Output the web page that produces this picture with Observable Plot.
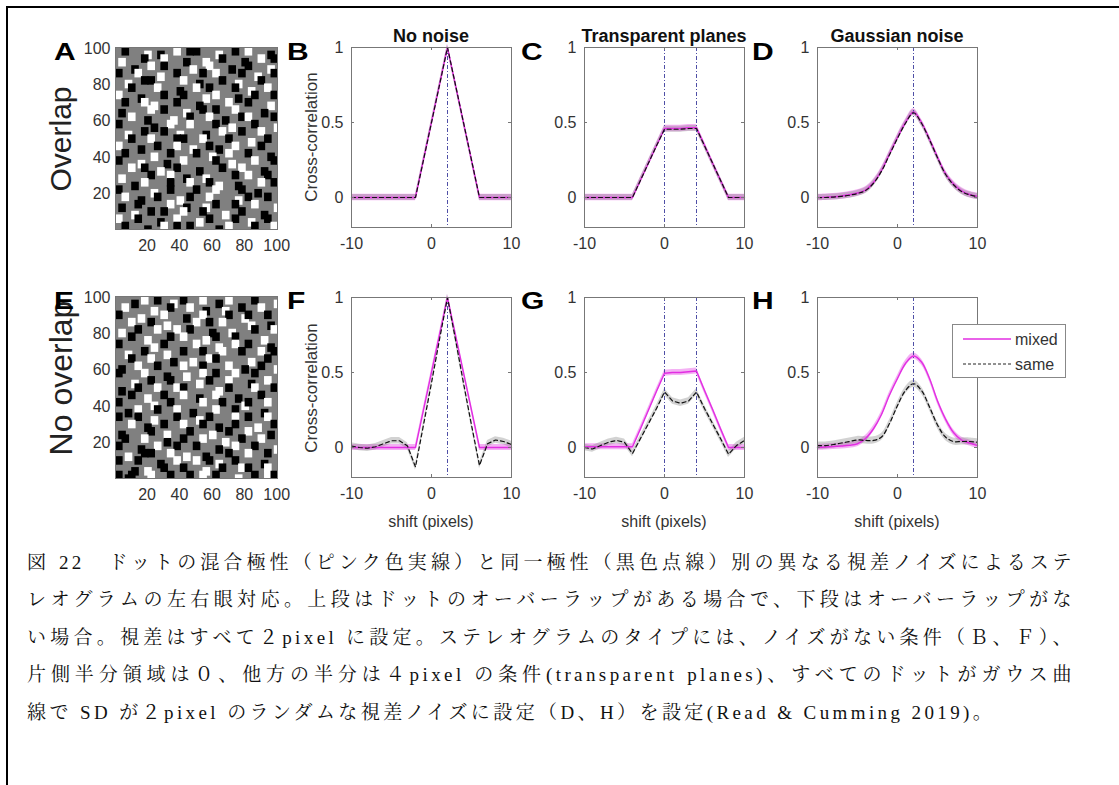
<!DOCTYPE html>
<html><head><meta charset="utf-8">
<script src="https://cdn.jsdelivr.net/npm/d3@7"></script>
<script src="https://cdn.jsdelivr.net/npm/@observablehq/plot@0.6"></script>
<style>
body{margin:0;background:#fff;}
#root{position:relative;width:1119px;height:785px;overflow:hidden;font-family:"Liberation Sans",Arial,sans-serif;color:#222;}
.abs{position:absolute;}
.letter{position:absolute;font-weight:bold;font-size:24px;line-height:1;color:#000;transform:scaleX(1.25);transform-origin:left top;}
.title{position:absolute;font-weight:bold;font-size:18px;line-height:1;color:#111;transform:translateX(-50%);white-space:nowrap;}
.rot{position:absolute;transform:translate(-50%,-50%) rotate(-90deg);white-space:nowrap;line-height:1;}
.xl{position:absolute;font-size:16px;line-height:1;color:#333;transform:translate(-50%,-50%);white-space:nowrap;}
.cap{position:absolute;left:27px;width:1048px;height:24px;line-height:24px;font-size:19px;color:#111;letter-spacing:3.4px;
 font-family:"Liberation Serif","Noto Serif CJK JP","Noto Sans CJK JP",serif;}
.just{text-align:justify;text-align-last:justify;}
</style></head>
<body><div id="root"></div>
<script>
// ---------- data ----------
const shift = [-10,-9,-8,-7,-6,-5,-4,-3,-2,-1,0,1,2,3,4,5,6,7,8,9,10];
const xTicks = [-10, 0, 10];
const yTicks = [0, 0.5, 1];
const imgTicks = [20, 40, 60, 80, 100];
const seriesNames = ["mixed", "same"];
const titles = ["No noise", "Transparent planes", "Gaussian noise"];
const rowLabels = ["Overlap", "No overlap"];
const letters = ["A","B","C","D","E","F","G","H"];

// B: no noise, overlap
const bMixed = [0,0,0,0,0,0,0,0,0,0.25,0.5,0.75,1,0.75,0.5,0.25,0,0,0,0,0];
const bSame  = [0,0,0,0,0,0,0,0,0,0.25,0.5,0.75,1,0.75,0.5,0.25,0,0,0,0,0];
// C: transparent planes, overlap
const cMixed = [0,0,0,0,0,0,0,0.115,0.23,0.345,0.46,0.46,0.46,0.465,0.465,0.35,0.23,0.115,0,0,0];
const cSame  = [0,0,0,0,0,0,0,0.115,0.23,0.345,0.455,0.455,0.455,0.46,0.46,0.345,0.23,0.115,0,0,0];
// D: gaussian noise, overlap
const dMixed = [0.0,0.002,0.005,0.01,0.018,0.03,0.05,0.10,0.18,0.29,0.40,0.50,0.57,0.50,0.39,0.27,0.16,0.09,0.045,0.02,0.008];
const dSame  = [0.0,0.0,0.003,0.008,0.015,0.027,0.046,0.095,0.175,0.285,0.395,0.495,0.565,0.495,0.385,0.265,0.155,0.085,0.04,0.018,0.006];
// F: no noise, no overlap
const fMixed = [0,0,0,0,0,0,0,0,0,0.25,0.5,0.75,1,0.75,0.5,0.25,0,0,0,0,0];
const fSame  = [0.01,0.0,-0.005,0.005,0.025,0.045,0.045,0.01,-0.13,0.15,0.43,0.72,1.0,0.72,0.43,0.15,-0.12,0.025,0.05,0.04,0.02];
// G: transparent planes, no overlap
const gMixed = [0.005,0.005,0.005,0.005,0.005,0.005,0.005,0.125,0.25,0.375,0.495,0.5,0.5,0.505,0.51,0.38,0.255,0.125,0.0,0.0,0.0];
const gSame  = [0.0,-0.01,0.013,0.035,0.047,0.035,-0.04,0.06,0.16,0.26,0.37,0.31,0.295,0.31,0.37,0.26,0.16,0.06,-0.045,0.013,0.047];
// H: gaussian noise, no overlap
const hMixed = [0.0,0.003,0.007,0.01,0.015,0.025,0.06,0.125,0.22,0.35,0.46,0.56,0.61,0.57,0.46,0.31,0.19,0.10,0.05,0.03,0.013];
const hSame  = [0.013,0.013,0.02,0.03,0.04,0.05,0.047,0.047,0.07,0.16,0.28,0.38,0.425,0.38,0.27,0.15,0.07,0.04,0.04,0.04,0.035];

// dot stereogram images: 25x25 grid of 4-px cells; b/w = black/white dot,
// B/W = dot offset by half a cell, . = grey background
const gridA = [
".b..W.B..w.bb..W..b.w..B.",
"W...b..w..B..W..b..B..w.b",
"..B..w.b...W..w..B..b..W.",
"b..w..W..b...b.w...b.W..b",
".W..bb....w.B...b.W...b..",
"..b...w..B..w.b...b.W..w.",
"w..B...b..b..W.w..B..b..b",
".b..wW...b..B....w..b..W.",
"B....w.b..W..b.b..w...B..",
"..w.B...W..b..w.B..bw...b",
"b....B..w..w...b.W...b..W",
".W..b..b.W...B..w..b..w..",
"..b..w...bb..w...b..W..b.",
"w..B..b..w.W..bB..w...b..",
".b...W..b...b.W..w..b..B.",
"b..W...B..w....b.W...w..b",
"..w.b.W..b..B...b..w..B..",
"W....b..w.B..W....b.w..b.",
"..B.w...b..w..bW..B...w.b",
"b....W..b...b..w...b.B...",
".w.B..b..W.b..w...W.b..b.",
"B..b....w.B..W.b..b..w..W",
"..W..b.b..w..b..W..b..B..",
"w..b..B..w..W.b...b.W..b.",
".b..B..w.b.b...B.w...b..w"];
const gridE = [
"..B.w.b.W.b..w.B.w...b..W",
".w...W..b..w.B..W..b..w..",
"b..W...w..B..w...b.Wb..b.",
"..w..b.W....w.b.w...W..B.",
"W..b..w..w.b..B..W...b..w",
"..b.W...b.w..W.b..b...W..",
"b....W.b....w..W..w.b..B.",
".W..b..W..b..b..w..b..w.b",
"..b..w..B..W..wb....W..b.",
"B..w..b...w..b...w.B..b.W",
"b...w..B..W..w.b..w..b...",
"..W..b..b...W.b..w..B..w.",
"B..b..w..wb....W.b...w..b",
"..b.W..b..w.B..w..B...b..",
"b....W..b....w..b..Wb..w.",
".B.w..b..w.B...w..b...B..",
"b..b.W...b..W.b...w.b..w.",
"..w.B..b..w..b.B..b..W..b",
"B....b.W...b..W..b..w..B.",
".b..w..B..b..w..W..b..w..",
"b..B..w..b..b..B..w..b..W",
".W..bb..w.W..B...b..w..b.",
"b..b..B..w..w.bW..b...B..",
"..B.W..b..b..W..b..wb..w.",
"bBb..w..b..b.w.b..W..b.wb"];

// ---------- layout ----------
const root = document.getElementById("root");
const FONT = "'Liberation Sans', Arial, sans-serif";
const ML = 45, MR = 5, MT = 5, MB = 25;
const xDomain = [-10, 10], yDomain = [-0.2, 1];
const DOT = 4.7; // dot side in image pixels

function place(svg, left, top) {
  svg.style.position = "absolute";
  svg.style.left = left + "px";
  svg.style.top = top + "px";
  root.appendChild(svg);
}

function linePanel(left, top, mixed, same, vlines, curve, bandM, bandS) {
  const PW = 160, PH = 180;
  const rows = shift.map((x, i) => ({x, m: mixed[i], s: same[i]}));
  const tickLen = (yDomain[1] - yDomain[0]) * 3 / PH;
  const tickLenX = (xDomain[1] - xDomain[0]) * 3 / PW;
  const svg = Plot.plot({
    width: ML + PW + MR, height: MT + PH + MB,
    marginLeft: ML, marginRight: MR, marginTop: MT, marginBottom: MB,
    style: {fontSize: "16px", fontFamily: FONT, color: "#333", background: "none", overflow: "visible"},
    x: {domain: xDomain, ticks: xTicks, tickSize: 0, tickPadding: 10, tickFormat: d => String(d), label: null},
    y: {domain: yDomain, ticks: yTicks, tickSize: 0, tickPadding: 8, tickFormat: d => String(d), label: null},
    marks: [
      Plot.areaY(rows, {x: "x", y1: d => d.m - bandM, y2: d => d.m + bandM, fill: "#ea64ea", fillOpacity: 0.5, curve}),
      Plot.areaY(rows, {x: "x", y1: d => d.s - bandS, y2: d => d.s + bandS, fill: "#8a8a8a", fillOpacity: 0.38, curve}),
      Plot.ruleX(vlines, {stroke: "#3b3b9c", strokeWidth: 0.9, strokeDasharray: "4,2,1,2"}),
      Plot.lineY(rows, {x: "x", y: "m", stroke: "#e22ee2", strokeWidth: 1.4, curve}),
      Plot.lineY(rows, {x: "x", y: "s", stroke: "#111", strokeWidth: 1.2, strokeDasharray: "4,3", curve}),
      Plot.ruleX(xTicks, {y1: yDomain[0], y2: yDomain[0] + tickLen, stroke: "#777"}),
      Plot.ruleX(xTicks, {y1: yDomain[1], y2: yDomain[1] - tickLen, stroke: "#777"}),
      Plot.ruleY(yTicks, {x1: xDomain[0], x2: xDomain[0] + tickLenX, stroke: "#777"}),
      Plot.ruleY(yTicks, {x1: xDomain[1], x2: xDomain[1] - tickLenX, stroke: "#777"}),
      Plot.frame({stroke: "#777", strokeWidth: 1})
    ]
  });
  place(svg, left - ML, top - MT);
}

function imagePanel(left, top, grid) {
  const PW = 162, PH = 182;
  const cells = [];
  grid.forEach((row, r) => [...row].forEach((ch, c) => {
    if (ch !== ".") cells.push({c, r, v: ch.toLowerCase(), off: ch === ch.toUpperCase() ? 2 : 0});
  }));
  const svg = Plot.plot({
    width: ML + PW + MR, height: MT + PH + MB,
    marginLeft: ML, marginRight: MR, marginTop: MT, marginBottom: MB,
    style: {fontSize: "16px", fontFamily: FONT, color: "#333", background: "none", overflow: "visible"},
    x: {domain: [0.5, 100.5], ticks: imgTicks, tickSize: 0, tickPadding: 10, tickFormat: d => String(d), label: null},
    y: {domain: [0.5, 100.5], ticks: imgTicks, tickSize: 0, tickPadding: 5, tickFormat: d => String(d), label: null},
    marks: [
      Plot.frame({fill: "#808080"}),
      Plot.rect(cells, {
        x1: d => 0.5 + 4 * d.c + d.off, x2: d => 0.5 + 4 * d.c + d.off + DOT,
        y1: d => 100.5 - 4 * d.r - d.off - DOT, y2: d => 100.5 - 4 * d.r - d.off,
        fill: d => d.v === "b" ? "#000" : "#fff", clip: true}),
      Plot.frame({stroke: "#777"})
    ]
  });
  place(svg, left - ML, top - MT);
}

function html(cls, text, left, top, extra) {
  const d = document.createElement("div");
  d.className = cls;
  d.textContent = text;
  d.style.left = left + "px";
  d.style.top = top + "px";
  if (extra) Object.assign(d.style, extra);
  root.appendChild(d);
  return d;
}

// frame lines of the figure box
const bt = document.createElement("div"); bt.className = "abs";
Object.assign(bt.style, {left: "6px", top: "6px", width: "1113px", height: "2px", background: "#000"}); root.appendChild(bt);
const bl = document.createElement("div"); bl.className = "abs";
Object.assign(bl.style, {left: "6px", top: "6px", width: "2px", height: "779px", background: "#000"}); root.appendChild(bl);

// panels
const colLeft = [351, 584, 817];
const rowTop = [47, 297];
imagePanel(115, 47, gridA);
imagePanel(115, 296, gridE);
linePanel(colLeft[0], rowTop[0], bMixed, bSame, [2], "linear", 0.022, 0.02);
linePanel(colLeft[1], rowTop[0], cMixed, cSame, [0, 4], "linear", 0.022, 0.02);
linePanel(colLeft[2], rowTop[0], dMixed, dSame, [2], "catmull-rom", 0.022, 0.02);
linePanel(colLeft[0], rowTop[1], fMixed, fSame, [2], "linear", 0.02, 0.022);
linePanel(colLeft[1], rowTop[1], gMixed, gSame, [0, 4], "linear", 0.02, 0.022);
linePanel(colLeft[2], rowTop[1], hMixed, hSame, [2], "catmull-rom", 0.02, 0.024);

// titles
titles.forEach((t, i) => html("title", t, colLeft[i] + 80, 27));
// row labels
html("rot", rowLabels[0], 61, 139, {fontSize: "30px", color: "#222"});
html("rot", rowLabels[1], 61, 378, {fontSize: "32px", color: "#222"});
// y labels
html("rot", "Cross-correlation", 311, 137, {fontSize: "17px", color: "#333"});
html("rot", "Cross-correlation", 311, 388, {fontSize: "17px", color: "#333"});
// x labels
colLeft.forEach(x => html("xl", "shift (pixels)", x + 80, 522));
// panel letters (on top)
const letterX = [54, 287, 521, 752];
letters.forEach((L, i) => html("letter", L, letterX[i % 4], i < 4 ? 40 : 289));

// legend
const leg = document.createElement("div");
leg.className = "abs";
Object.assign(leg.style, {left: "952px", top: "324px", width: "112px", height: "52px", background: "#fff", border: "1px solid #888"});
leg.innerHTML = `<svg width="112" height="52" style="position:absolute;left:0;top:0">
<line x1="10" x2="58" y1="14" y2="14" stroke="#e22ee2" stroke-width="1.4"/>
<line x1="10" x2="58" y1="39" y2="39" stroke="#222" stroke-width="1" stroke-dasharray="3,2"/>
<text x="62" y="19.5" font-size="16" font-family="${FONT}" fill="#333">${seriesNames[0]}</text>
<text x="62" y="44.5" font-size="16" font-family="${FONT}" fill="#333">${seriesNames[1]}</text></svg>`;
root.appendChild(leg);

// caption
const capLines = [
 "図 22　ドットの混合極性（ピンク色実線）と同一極性（黒色点線）別の異なる視差ノイズによるステ",
 "レオグラムの左右眼対応。上段はドットのオーバーラップがある場合で、下段はオーバーラップがな",
 "い場合。視差はすべて２pixel に設定。ステレオグラムのタイプには、ノイズがない条件（Ｂ、Ｆ）、",
 "片側半分領域は０、他方の半分は４pixel の条件(transparent planes)、すべてのドットがガウス曲",
 "線で SD が２pixel のランダムな視差ノイズに設定（D、H）を設定(Read & Cumming 2019)。"
];
const capY = [563, 600, 638, 675, 713];
capLines.forEach((t, i) => html(i < 4 ? "cap just" : "cap", t, 27, capY[i] - 12));
</script></body></html>
